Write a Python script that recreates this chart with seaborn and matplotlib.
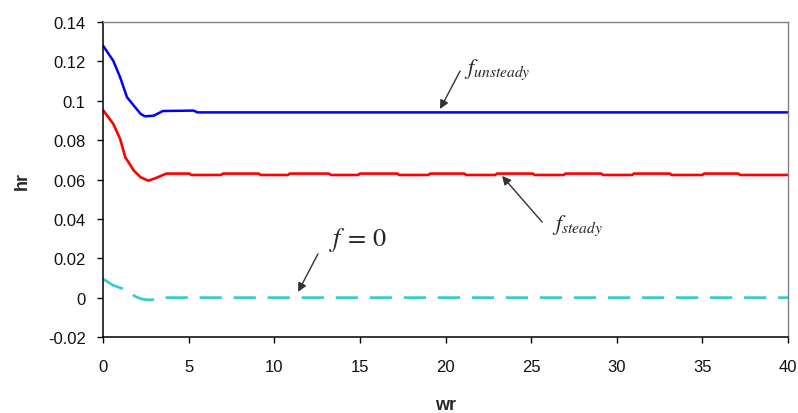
import numpy as np
import pandas as pd
import matplotlib
matplotlib.use("Agg")
import matplotlib.pyplot as plt
import matplotlib.ticker as mticker
import seaborn as sns

# values
unsteady_wr = [0, 0.6, 1.0, 1.4, 1.8, 2.2, 2.45, 2.95, 3.5, 5.3, 5.5, 40]
unsteady_hr = [0.128, 0.1203, 0.1119, 0.1018, 0.0975, 0.0933, 0.0921, 0.0924, 0.0948, 0.0950, 0.0941, 0.0941]

steady_wr = [0, 0.6, 1.0, 1.3, 1.8, 2.2, 2.65, 3.1, 3.7,
             5.05, 5.15, 6.9, 7.0, 9.1, 9.2, 10.8, 10.9, 13.2, 13.3, 14.9, 15.0,
             17.2, 17.3, 19.0, 19.1, 21.1, 21.2, 22.9, 23.0, 25.1, 25.2, 26.9, 27.0,
             29.1, 29.2, 30.9, 31.0, 33.1, 33.2, 35.0, 35.1, 37.1, 37.2, 40]
steady_hr = [0.0953, 0.0882, 0.0806, 0.0713, 0.0645, 0.0611, 0.0594, 0.0608, 0.0630,
             0.0630, 0.0623, 0.0623, 0.0630, 0.0630, 0.0623, 0.0623, 0.0630, 0.0630, 0.0623, 0.0623, 0.0630,
             0.0630, 0.0623, 0.0623, 0.0630, 0.0630, 0.0623, 0.0623, 0.0630, 0.0630, 0.0623, 0.0623, 0.0630,
             0.0630, 0.0623, 0.0623, 0.0630, 0.0630, 0.0623, 0.0623, 0.0630, 0.0630, 0.0623, 0.0623]

zero_wr = [0, 0.6, 1.2, 1.9, 2.3, 2.7, 3.1, 3.4, 40]
zero_hr = [0.0095, 0.0062, 0.0044, 0.0005, -0.0008, -0.0012, -0.0008, 0.0, 0.0]

x_ticks = [0, 5, 10, 15, 20, 25, 30, 35, 40]
y_ticks = [-0.02, 0, 0.02, 0.04, 0.06, 0.08, 0.1, 0.12, 0.14]

sns.set_style("white")
plt.rcParams['font.family'] = ['Liberation Sans', 'DejaVu Sans']
plt.rcParams['mathtext.fontset'] = 'stix'
plt.rcParams['lines.scale_dashes'] = False

fig = plt.figure(figsize=(7.98, 4.14), dpi=100)
ax = fig.add_axes([0.1291, 0.1836, 0.8584, 0.7608])

sns.lineplot(x=unsteady_wr, y=unsteady_hr, color='#0000FF', lw=1.8, ax=ax, sort=False)
sns.lineplot(x=steady_wr, y=steady_hr, color='#FF0000', lw=1.9, ax=ax, sort=False)
sns.lineplot(x=zero_wr, y=zero_hr, color='#33CCCC', lw=1.9, ax=ax, sort=False,
             linestyle=(0, (16, 8.5)))

ax.set_xlim(0, 40)
ax.set_ylim(-0.02, 0.14)
ax.set_xticks(x_ticks)
ax.set_yticks(y_ticks)
ax.yaxis.set_major_formatter(mticker.FuncFormatter(lambda v, p: '%g' % round(v, 2)))
ax.tick_params(axis='both', direction='out', length=4.5, width=1, color='black',
               labelsize=12, labelcolor='#111111', left=True, bottom=True)
ax.tick_params(axis='y', pad=8)
ax.tick_params(axis='x', pad=11)

for s in ['left', 'bottom']:
    ax.spines[s].set_color('black')
    ax.spines[s].set_linewidth(1.1)
for s in ['top', 'right']:
    ax.spines[s].set_color('#808080')
    ax.spines[s].set_linewidth(1.0)

ax.set_xlabel('wr', fontsize=13, fontweight='bold', labelpad=16)
ax.set_ylabel('hr', fontsize=13, fontweight='bold', labelpad=12)

arrow = dict(arrowstyle='-|>', color='#333333', lw=1.0, mutation_scale=13, shrinkA=0, shrinkB=0)

#annotations
ax.annotate('', xy=(19.68, 0.0958), xytext=(20.85, 0.1151), arrowprops=arrow)
ax.text(21.1, 0.1163, r'$f_{unsteady}$', fontsize=16, va='center', ha='left')

ax.annotate('', xy=(23.3, 0.0618), xytext=(25.64, 0.0384), arrowprops=arrow)
ax.text(26.2, 0.0369, r'$f_{steady}$', fontsize=16, va='center', ha='left')

ax.annotate('', xy=(11.39, 0.0029), xytext=(12.55, 0.0222), arrowprops=arrow)
ax.text(13.2, 0.0298, r'$f\,=\,0$', fontsize=19, va='center', ha='left')

plt.savefig('out.png', dpi=100)
